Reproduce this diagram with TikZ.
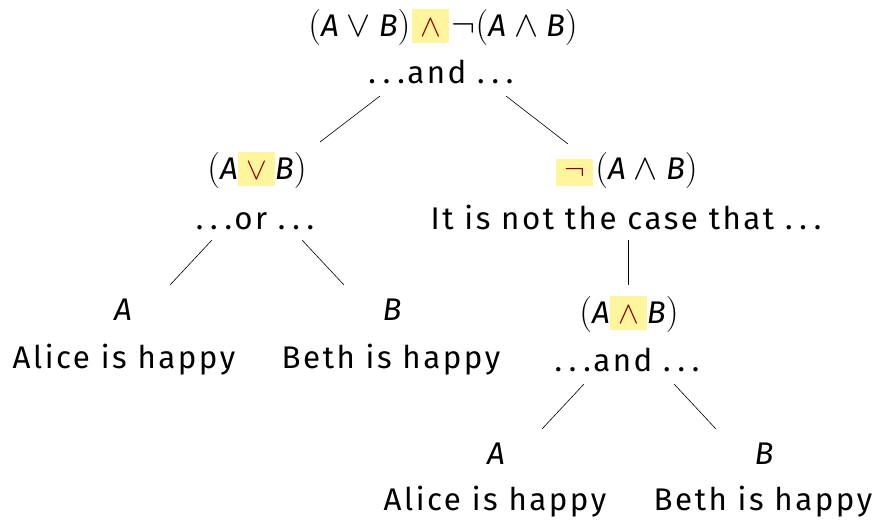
\documentclass[tikz,border=0pt]{standalone}
\usepackage[no-math]{fontspec}
\setmainfont{Fira Sans}[Scale=1.258,LetterSpace=8]
\definecolor{hlyellow}{HTML}{FFF59D}
\definecolor{opred}{HTML}{8B0000}
\newcommand\va{\mbox{\itshape A}}
\newcommand\vb{\mbox{\itshape B}}
\newcommand\mth[2][1.45]{\scalebox{#1}{$#2$}}
\newcommand\eldots{.\hspace{0.22em}.\hspace{0.22em}.}
% highlighted main connective
\newcommand\hlop[2][27pt]{{\setlength{\fboxsep}{0pt}%
  \colorbox{hlyellow}{\rule[-7pt]{0pt}{\dimexpr#1+7pt\relax}\makebox[37pt]{\textcolor{opred}{\mth[1.25]{#2}}}}}}
\begin{document}
\begin{tikzpicture}[x=1pt,y=-1pt,
    every node/.style={font=\fontsize{24.88}{30}\selectfont},
    txt/.style={anchor=base,inner sep=0pt},
    edge/.style={line width=0.6pt}]
  \useasboundingbox (0,0) rectangle (876,520);
  % root
  \node[txt] (root) at (443,36) {\mth{(}\va\mth{{}\vee{}}\vb\mth{)}\hspace{2pt}\hlop{\wedge}\hspace{2pt}\mth{\neg(}\va\mth{{}\wedge{}}\vb\mth{)}};
  \node[txt] (rootg) at (441,83) {\eldots and \eldots};
  % left: disjunction
  \node[txt] (or) at (257,179) {\mth{(}\va\hlop{\vee}\vb\mth{)}};
  \node[txt] (org) at (255,229) {\eldots or \eldots};
  \node[txt] (a1) at (123,320) {\va};
  \node[txt] (a1g) at (124,368) {Alice is happy};
  \node[txt] (b1) at (392,320) {\vb};
  \node[txt] (b1g) at (391,368) {Beth is happy};
  % right: negation
  \node[txt] (neg) at (627,179) {\hlop[20pt]{\neg}\hspace{2pt}\mth{(}\va\mth{{}\wedge{}}\vb\mth{)}};
  \node[txt] (negg) at (626,229) {It is not the case that \eldots};
  \node[txt] (and) at (629,323) {\mth{(}\va\hlop{\wedge}\vb\mth{)}};
  \node[txt] (andg) at (627,371) {\eldots and \eldots};
  \node[txt] (a2) at (496,464) {\va};
  \node[txt] (a2g) at (495,510) {Alice is happy};
  \node[txt] (b2) at (764,464) {\vb};
  \node[txt] (b2g) at (763,510) {Beth is happy};
  % edges
  \draw[edge] ([shift={(-61,13)}]rootg.base) -- ([shift={(63,-37)}]or.base);
  \draw[edge] ([shift={(65,13)}]rootg.base) -- ([shift={(-59,-35)}]neg.base);
  \draw[edge] ([shift={(-43,11)}]org.base) -- ([shift={(47,-35)}]a1.base);
  \draw[edge] ([shift={(47,11)}]org.base) -- ([shift={(-48,-35)}]b1.base);
  \draw[edge] ([shift={(2,11)}]negg.base) -- ([shift={(-1,-38)}]and.base);
  \draw[edge] ([shift={(-43,13)}]andg.base) -- ([shift={(46,-35)}]a2.base);
  \draw[edge] ([shift={(47,13)}]andg.base) -- ([shift={(-48,-35)}]b2.base);
\end{tikzpicture}
\end{document}
